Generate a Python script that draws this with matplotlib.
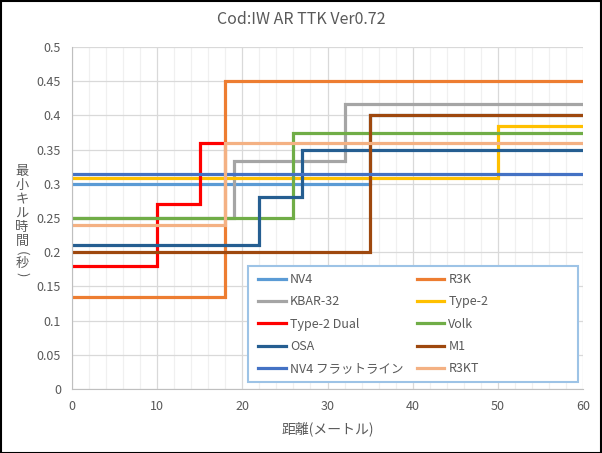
import matplotlib
matplotlib.use("Agg")
import matplotlib.pyplot as plt
from matplotlib.patches import Rectangle
from matplotlib.ticker import MultipleLocator

plt.rcParams['font.family'] = ['Noto Sans CJK JP', 'DejaVu Sans']

# Series data (distance breakpoints, TTK values; step "post")
names = ['NV4', 'R3K', 'KBAR-32', 'Type-2', 'Type-2 Dual',
         'Volk', 'OSA', 'M1', 'NV4 フラットライン', 'R3KT']
xs = [
    [0, 35, 60],
    [0, 18, 60],
    [0, 19, 32, 60],
    [0, 50, 60],
    [0, 10, 15, 18],
    [0, 26, 60],
    [0, 22, 27, 60],
    [0, 35, 60],
    [0, 60],
    [0, 18, 60],
]
ys = [
    [0.30, 0.40, 0.40],
    [0.135, 0.45, 0.45],
    [0.25, 0.333, 0.417, 0.417],
    [0.309, 0.385, 0.385],
    [0.18, 0.27, 0.36, 0.36],
    [0.25, 0.375, 0.375],
    [0.21, 0.28, 0.35, 0.35],
    [0.20, 0.40, 0.40],
    [0.315, 0.315],
    [0.24, 0.36, 0.36],
]
colors = ['#5B9BD5', '#ED7D31', '#A5A5A5', '#FFC000', '#FF0000',
          '#70AD47', '#255E91', '#9E480E', '#4472C4', '#F4B183']

txt = '#595959'
W, H = 602, 453

fig = plt.figure(figsize=(W / 100, H / 100), dpi=100)
ax = fig.add_axes([72 / W, 1 - 389 / H, 511 / W, 342 / H])

lines = []
for x, y, c, n in zip(xs, ys, colors, names):
    ln, = ax.step(x, y, where='post', color=c, lw=2.3, label=n,
                  solid_joinstyle='miter')
    lines.append(ln)

ax.set_xlim(0, 60)
ax.set_ylim(0, 0.5)
ax.xaxis.set_major_locator(MultipleLocator(10))
ax.xaxis.set_minor_locator(MultipleLocator(2))
ax.yaxis.set_major_locator(MultipleLocator(0.05))
ax.yaxis.set_major_formatter(plt.FuncFormatter(lambda v, p: f'{v:g}' if v else '0'))

ax.grid(True, which='major', color='#D9D9D9', lw=0.9)
ax.grid(True, which='minor', axis='x', color='#F0F0F0', lw=0.9)
ax.set_axisbelow(True)
for s in ['top', 'right']:
    ax.spines[s].set_visible(False)
for s in ['left', 'bottom']:
    ax.spines[s].set_color('#BFBFBF')
ax.tick_params(which='both', length=0, labelsize=9, colors=txt, pad=8)

fig.text(0.5, 1 - 20 / H, 'Cod:IW AR TTK Ver0.72', fontsize=11.5, color=txt,
         ha='center', va='center')
ax.set_xlabel('距離(メートル)', fontsize=10, color=txt, labelpad=6)

# vertical y label, one glyph at a time
ylab = '最小キル時間(秒)'
yy = 172
for ch in ylab:
    if ch in '()':
        yy -= 3
        fig.text(22 / W, 1 - yy / H, ch, fontsize=9.5, color=txt, rotation=-90,
                 ha='center', va='center')
        yy += 10
    else:
        fig.text(22 / W, 1 - yy / H, ch, fontsize=9.5, color=txt,
                 ha='center', va='center')
        yy += 14

# legend box
ax.add_patch(Rectangle((176 / 511, 7 / 342), 330 / 511, 116 / 342,
                       transform=ax.transAxes, facecolor='white',
                       edgecolor='#9DC3E6', lw=1.5, zorder=4))
order = [0, 2, 4, 6, 8, 1, 3, 5, 7, 9]
leg = ax.legend([lines[i] for i in order], [names[i] for i in order],
                ncol=2, loc='upper left', frameon=False,
                bbox_to_anchor=(186 / 511, 116 / 342),
                fontsize=9, labelcolor=txt,
                handlelength=2.2, handletextpad=0.35, borderaxespad=0,
                borderpad=0, labelspacing=0.75, columnspacing=1.05)
leg.set_zorder(5)

fig.add_artist(Rectangle((0.001, 0.001), 0.997, 0.997, transform=fig.transFigure,
                         fill=False, edgecolor='black', lw=1.5))

fig.savefig('out.png', dpi=100)
